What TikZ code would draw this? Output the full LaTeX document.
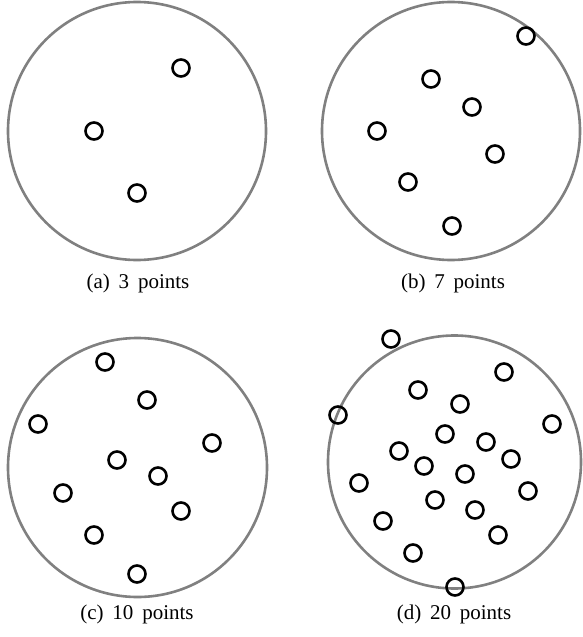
\documentclass[tikz,border=0pt]{standalone}
\usepackage{fontspec}
\setmainfont{Liberation Serif}
\usepackage{tikz}
\usetikzlibrary{positioning}

\newcommand{\capfont}{\fontsize{21}{25}\selectfont\spaceskip=0.42em\relax}

\tikzset{
    region/.style={circle, draw=black!50, line width=2.6pt, inner sep=0pt},
    pt/.style={circle, draw=black, line width=2.6pt, minimum size=17pt, inner sep=0pt},
    caption/.style={anchor=base, font=\capfont}
}

\begin{document}
\begin{tikzpicture}[x=1pt, y=-1pt]
    \useasboundingbox (0,0) rectangle (583,637);

    % sampling regions
    \node [region, minimum size=258pt] (ra) at (137,131) {};
    \node [region, minimum size=258pt] (rb) at (451,131) {};
    \node [region, minimum size=259pt] (rc) at (137.5,467.5) {};
    \node [region, minimum size=253pt] (rd) at (454.5,462) {};

    % (a) 3 points
    \foreach \x/\y [count=\i] in {181/68, 94/131, 137/193}
        \node [pt] (a\i) at (\x,\y) {};

    % (b) 7 points
    \foreach \x/\y [count=\i] in {526/36, 431/79, 472/107, 377/131, 495/154,
        408/182, 452/226}
        \node [pt] (b\i) at (\x,\y) {};

    % (c) 10 points
    \foreach \x/\y [count=\i] in {105/362, 147/400, 38/424, 212/443, 117/460,
        158/476, 63/493, 181/511, 94/535, 137/574}
        \node [pt] (c\i) at (\x,\y) {};

    % (d) 20 points
    \foreach \x/\y [count=\i] in {391/339, 504/372, 418/390, 460/404, 338/415,
        552/424, 445/434, 486/442, 399/451, 511/459, 424/466, 465/474, 359/483,
        528/491, 435/500, 475/510, 383/521, 498/535, 413/553, 455/587}
        \node [pt] (d\i) at (\x,\y) {};

    % captions
    \node [caption] (capa) at (138,288) {(a) 3 points};
    \node [caption] (capb) at (453,288) {(b) 7 points};
    \node [caption] (capc) at (137,619) {(c) 10 points};
    \node [caption] (capd) at (454,619) {(d) 20 points};
\end{tikzpicture}
\end{document}
